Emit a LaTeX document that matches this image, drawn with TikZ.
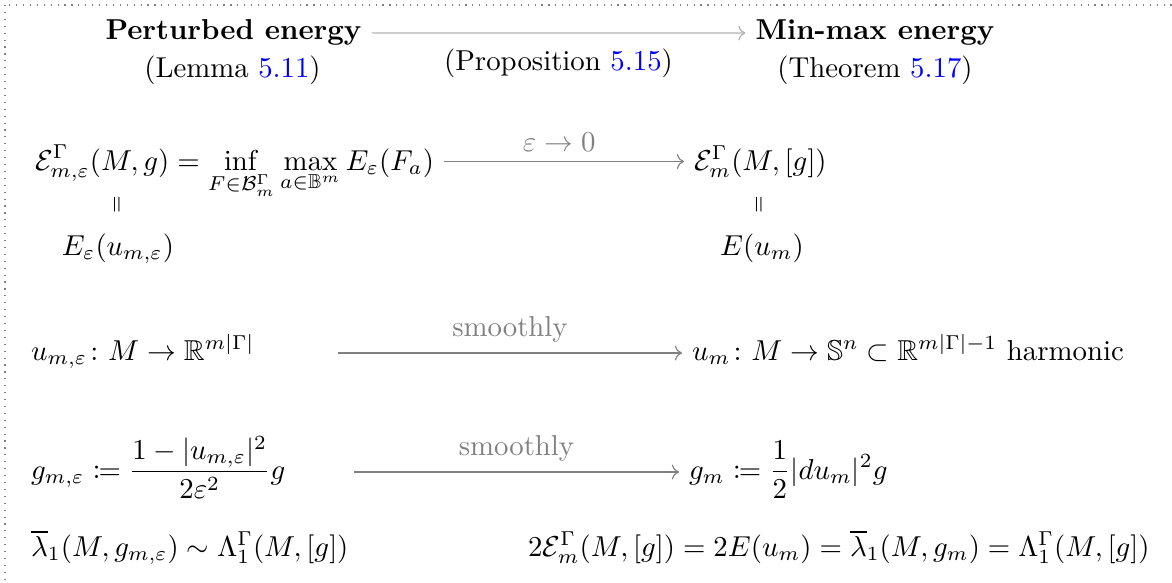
\documentclass[tikz,border=0pt]{standalone}
\usepackage{amsmath,amssymb,mathtools}
\usetikzlibrary{arrows.meta,positioning}
\definecolor{reflinkblue}{RGB}{0,0,255}
\newcommand{\reflink}[1]{\textcolor{reflinkblue}{#1}}

\begin{document}
\begin{tikzpicture}[
    x=0.3472pt, y=-0.3472pt,
    txt/.style={anchor=base west},
    ctr/.style={anchor=base},
    title/.style={anchor=base, font=\bfseries},
    eqsign/.style={rotate=90, inner sep=0pt},
    arrow/.style={-{Computer Modern Rightarrow}, color=gray},
    lbl/.style={text=gray}
]
\useasboundingbox (0,0) rectangle (1172,583);
\draw[gray, dotted] (5,5) rectangle (1300,700);

% top row
\node[title] (pert) at (233.5,40) {Perturbed energy};
\node[ctr] (lem) at (232.5,77) {(Lemma \reflink{5.11})};
\node[title] (minmax) at (875,40) {Min-max energy};
\node[ctr] (thm) at (875,77) {(Theorem \reflink{5.17})};
\draw[arrow, gray!60] (pert) -- (minmax) node[midway, below=2pt, text=black] {(Proposition \reflink{5.15})};

% energies
\node[txt] (Eeps) at (25,170) {$\displaystyle \mathcal{E}^{\Gamma}_{m,\varepsilon}(M,g) = \inf_{F\in\mathcal{B}^{\Gamma}_m}\max_{a\in\mathbb{B}^m} E_\varepsilon(F_a)$};
\node[txt] (Em) at (684,170) {$\mathcal{E}^{\Gamma}_{m}(M,[g])$};
\draw[arrow] (Eeps.east |- Em.west) -- (Em.west) node[pos=0.48, above, lbl] {$\varepsilon \to 0$};

\node[eqsign] (eqL) at (118,205) {$\scriptstyle=$};
\node[ctr] (Eu) at (118,255) {$E_\varepsilon(u_{m,\varepsilon})$};
\node[eqsign] (eqR) at (760,205) {$\scriptstyle=$};
\node[ctr] (Eum) at (762,255) {$E(u_m)$};

% maps
\node[txt] (ueps) at (21,360) {$u_{m,\varepsilon}\colon M\to\mathbb{R}^{m|\Gamma|}$};
\node[txt] (um) at (682,360) {$u_m\colon M\to\mathbb{S}^n\subset\mathbb{R}^{m|\Gamma|-1}$ harmonic};
\coordinate (s3) at (338,353);
\draw[arrow] (s3) -- (s3 -| um.west) node[midway, above, lbl] {smoothly};

% metrics
\node[txt] (geps) at (21,479) {$\displaystyle g_{m,\varepsilon} \coloneqq \frac{1-|u_{m,\varepsilon}|^2}{2\varepsilon^2}g$};
\node[txt] (gm) at (679,479) {$\displaystyle g_m \coloneqq \frac{1}{2}|du_m|^2 g$};
\coordinate (s4) at (354,472);
\draw[arrow] (s4) -- (s4 -| gm.west) node[midway, above, lbl] {smoothly};

% eigenvalues
\node[txt] (lam) at (21,556) {$\overline{\lambda}_1(M,g_{m,\varepsilon}) \sim \Lambda^{\Gamma}_1(M,[g])$};
\node[txt] (chain) at (518,556) {$2\mathcal{E}^{\Gamma}_m(M,[g]) = 2E(u_m) = \overline{\lambda}_1(M,g_m) = \Lambda^{\Gamma}_1(M,[g])$};
\end{tikzpicture}
\end{document}
